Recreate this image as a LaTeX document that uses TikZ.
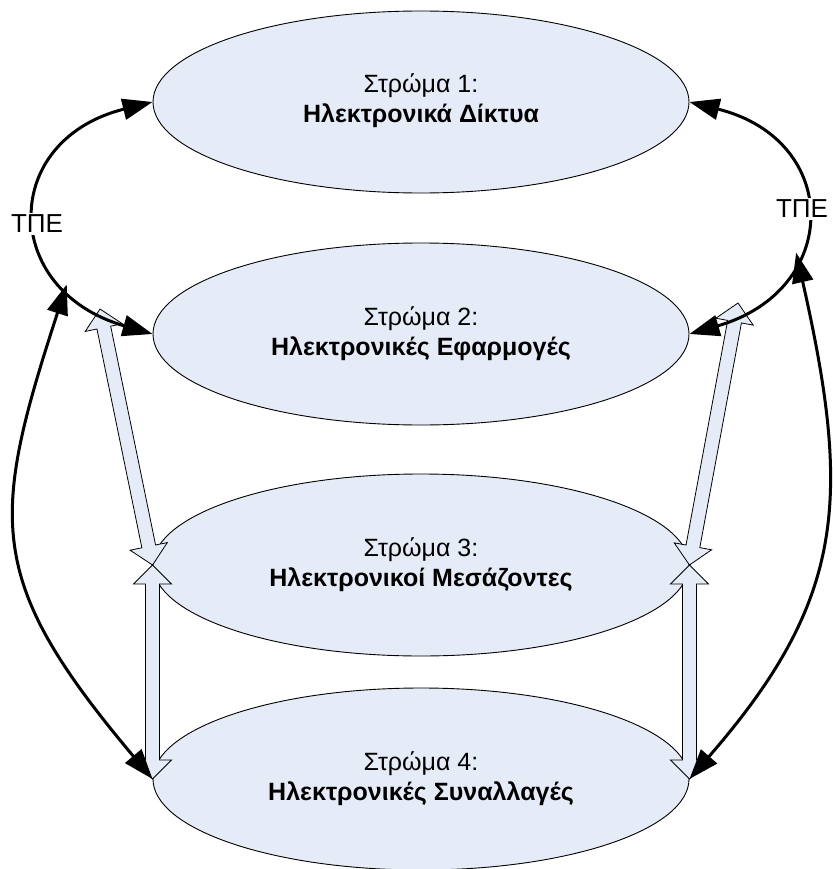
\documentclass[tikz,border=0pt]{standalone}
\usepackage{fontspec}
\setmainfont{Liberation Sans}
\usetikzlibrary{shapes.geometric,arrows.meta,calc}
\definecolor{ellfill}{RGB}{230,236,247}
\newcommand{\dblarrow}[2]{%
 \draw[hollow] (#1)
  -- ($(#1)!19pt!(#2)!19pt!90:(#2)$)
  -- ($(#1)!19pt!(#2)!7pt!90:(#2)$)
  -- ($(#2)!19pt!(#1)!7pt!-90:(#1)$)
  -- ($(#2)!19pt!(#1)!19pt!-90:(#1)$)
  -- (#2)
  -- ($(#2)!19pt!(#1)!19pt!90:(#1)$)
  -- ($(#2)!19pt!(#1)!7pt!90:(#1)$)
  -- ($(#1)!19pt!(#2)!7pt!-90:(#2)$)
  -- ($(#1)!19pt!(#2)!19pt!-90:(#2)$)
  -- cycle;}
\begin{document}
\begin{tikzpicture}[x=1pt,y=-1pt,
  layer/.style={ellipse, draw=black, line width=0.9pt, fill=ellfill,
    minimum width=536pt, minimum height=182pt, inner sep=0pt,
    align=center, font=\fontsize{25}{30}\selectfont},
  conn/.style={line width=3pt,
    {Triangle[length=30pt,width=21pt]}-{Triangle[length=30pt,width=21pt]}},
  hollow/.style={draw=black, line width=0.8pt, fill=ellfill, line join=miter},
  tpe/.style={fill=white, inner sep=2pt, font=\fontsize{26}{30}\selectfont}]
\useasboundingbox (0,0) rectangle (832,869);

\node[layer] (e1) at (421,102) {\raisebox{-4pt}{\begin{tabular}{c}Στρώμα 1:\\\textbf{Ηλεκτρονικά Δίκτυα}\end{tabular}}};
\node[layer] (e2) at (421,334) {Στρώμα 2:\\\textbf{Ηλεκτρονικές Εφαρμογές}};
\node[layer] (e3) at (421,565) {Στρώμα 3:\\\textbf{Ηλεκτρονικοί Μεσάζοντες}};
\node[layer] (e4) at (421,779) {Στρώμα 4:\\\textbf{Ηλεκτρονικές Συναλλαγές}};

\coordinate (hL) at (100,309);
\coordinate (hR) at (738,303);
\dblarrow{hL}{e3.west}
\dblarrow{e3.west}{e4.west}
\dblarrow{hR}{e3.east}
\dblarrow{e3.east}{e4.east}

\draw[conn] (e1.west) .. controls (0,140) and (0,290) .. (e2.west) coordinate[pos=0.75] (tL);
\draw[conn] (e1.east) .. controls (842,140) and (842,290) .. (e2.east) coordinate[pos=0.63] (tR);
\draw[conn] (tL) .. controls (-10,520) and (-15,580) .. (e4.west);
\draw[conn] (tR) .. controls (852,500) and (845,600) .. (e4.east);

\node[tpe] (tpeL) at (37,224) {ΤΠΕ};
\node[tpe] (tpeR) at (802,209) {ΤΠΕ};
\end{tikzpicture}
\end{document}
